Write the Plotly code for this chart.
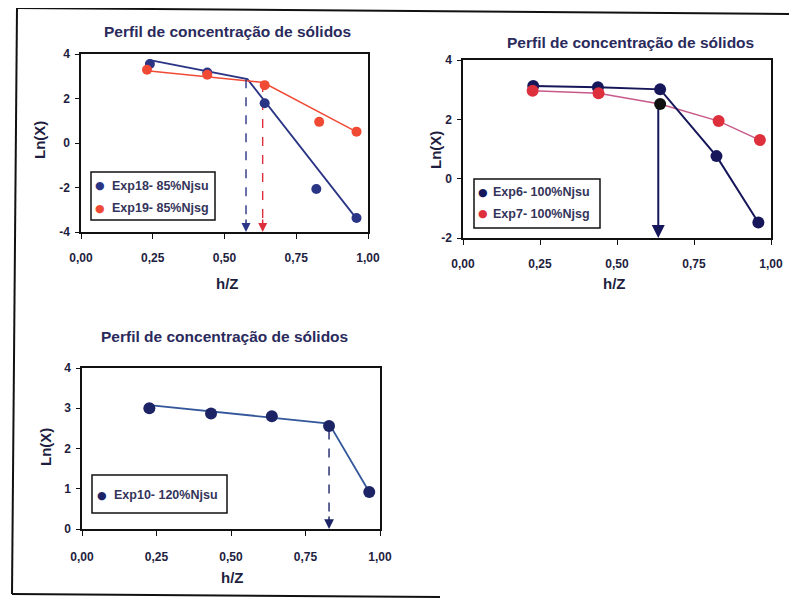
import plotly.graph_objects as go

# ---------------- data ----------------
title_text = "Perfil de concentração de sólidos"
x_ticks = [0, 0.25, 0.5, 0.75, 1.0]

# top-left chart
tl_blue_name = "Exp18- 85%Njsu"
tl_blue_x = [0.24, 0.44, 0.64, 0.82, 0.96]
tl_blue_y = [3.55, 3.17, 1.79, -2.07, -3.37]
tl_red_name = "Exp19- 85%Njsg"
tl_red_x = [0.23, 0.44, 0.64, 0.83, 0.96]
tl_red_y = [3.29, 3.07, 2.60, 0.95, 0.51]
tl_fit_blue_x = [0.24, 0.58, 0.96]
tl_fit_blue_y = [3.72, 2.87, -3.40]
tl_fit_red_x = [0.23, 0.635, 0.96]
tl_fit_red_y = [3.25, 2.72, 0.50]
tl_break_x = [0.575, 0.633]
tl_break_y = [2.87, 2.70]
tl_yticks = [-4, -2, 0, 2, 4]

# top-right chart
tr_blue_name = "Exp6- 100%Njsu"
tr_blue_x = [0.228, 0.438, 0.64, 0.823, 0.959]
tr_blue_y = [3.12, 3.08, 3.01, 0.76, -1.48]
tr_red_name = "Exp7- 100%Njsg"
tr_red_x = [0.226, 0.44, 0.64, 0.83, 0.964]
tr_red_y = [2.96, 2.88, 2.52, 1.94, 1.30]
tr_break_x = [0.634]
tr_break_y = [2.50]
tr_yticks = [-2, 0, 2, 4]

# bottom chart
bt_name = "Exp10- 120%Njsu"
bt_x = [0.226, 0.433, 0.637, 0.829, 0.964]
bt_y = [3.00, 2.87, 2.80, 2.56, 0.92]
bt_fit_x = [0.226, 0.829, 0.964]
bt_fit_y = [3.08, 2.62, 0.92]
bt_break_x = [0.829]
bt_break_y = [2.45]
bt_yticks = [0, 1, 2, 3, 4]

# ---------------- styling ----------------
W, H = 797, 599
OFF = 8  # page body margin
FONT = "Liberation Sans, Arial, sans-serif"
TXT = "#1e1e40"
NAVY = "#2b3585"
ORANGE = "#f04a35"
DNAVY = "#16165a"
CRIMSON = "#dd2f3c"
PINK = "#c85a8a"
BNAVY = "#1c2466"
BLINE = "#34579a"


def px_x(p):
    return (p - OFF) / W


def px_y(p):
    return 1 - (p - OFF) / H


fig = go.Figure()

# ---- top-left ----
fig.add_trace(go.Scatter(x=tl_fit_blue_x, y=tl_fit_blue_y, mode="lines",
                         line=dict(color=NAVY, width=1.8), showlegend=False,
                         xaxis="x", yaxis="y"))
fig.add_trace(go.Scatter(x=tl_fit_red_x, y=tl_fit_red_y, mode="lines",
                         line=dict(color=ORANGE, width=1.5), showlegend=False,
                         xaxis="x", yaxis="y"))
for bx, by, c in zip(tl_break_x, tl_break_y, [NAVY, CRIMSON]):
    fig.add_trace(go.Scatter(x=[bx, bx], y=[by, -3.6], mode="lines",
                             line=dict(color=c, width=1.4, dash="dash"),
                             showlegend=False, xaxis="x", yaxis="y"))
fig.add_trace(go.Scatter(x=tl_blue_x, y=tl_blue_y, mode="markers", name=tl_blue_name,
                         marker=dict(color=NAVY, size=10), xaxis="x", yaxis="y",
                         showlegend=False))
fig.add_trace(go.Scatter(x=tl_red_x, y=tl_red_y, mode="markers", name=tl_red_name,
                         marker=dict(color=ORANGE, size=10), xaxis="x", yaxis="y",
                         showlegend=False))

# ---- top-right ----
fig.add_trace(go.Scatter(x=tr_red_x, y=tr_red_y, mode="lines",
                         line=dict(color=PINK, width=1.5), showlegend=False,
                         xaxis="x2", yaxis="y2"))
fig.add_trace(go.Scatter(x=tr_blue_x, y=tr_blue_y, mode="lines",
                         line=dict(color=DNAVY, width=2), showlegend=False,
                         xaxis="x2", yaxis="y2"))
for bx, by in zip(tr_break_x, tr_break_y):
    fig.add_trace(go.Scatter(x=[bx, bx], y=[by, -1.7], mode="lines",
                             line=dict(color=DNAVY, width=2),
                             showlegend=False, xaxis="x2", yaxis="y2"))
fig.add_trace(go.Scatter(x=tr_blue_x, y=tr_blue_y, mode="markers", name=tr_blue_name,
                         marker=dict(color=DNAVY, size=12), xaxis="x2", yaxis="y2",
                         showlegend=False))
fig.add_trace(go.Scatter(x=tr_red_x, y=tr_red_y, mode="markers", name=tr_red_name,
                         marker=dict(color=[CRIMSON, CRIMSON, "#111111", CRIMSON, CRIMSON], size=12),
                         xaxis="x2", yaxis="y2", showlegend=False))

# ---- bottom ----
fig.add_trace(go.Scatter(x=bt_fit_x, y=bt_fit_y, mode="lines",
                         line=dict(color=BLINE, width=1.8), showlegend=False,
                         xaxis="x3", yaxis="y3"))
for bx, by in zip(bt_break_x, bt_break_y):
    fig.add_trace(go.Scatter(x=[bx, bx], y=[by, 0.15], mode="lines",
                             line=dict(color=BNAVY, width=1.4, dash="dash"),
                             showlegend=False, xaxis="x3", yaxis="y3"))
fig.add_trace(go.Scatter(x=bt_x, y=bt_y, mode="markers", name=bt_name,
                         marker=dict(color=BNAVY, size=12), xaxis="x3", yaxis="y3",
                         showlegend=False))

# arrowheads
annotations = []
for bx, c in zip(tl_break_x, [NAVY, CRIMSON]):
    annotations.append(dict(x=bx, y=-4, xref="x", yref="y", ax=0, ay=-14, text="",
                            showarrow=True, arrowhead=2, arrowsize=1.2, arrowwidth=1.5,
                            arrowcolor=c))
for bx in tr_break_x:
    annotations.append(dict(x=bx, y=-2, xref="x2", yref="y2", ax=0, ay=-14, text="",
                            showarrow=True, arrowhead=2, arrowsize=1.3, arrowwidth=2,
                            arrowcolor=DNAVY))
for bx in bt_break_x:
    annotations.append(dict(x=bx, y=0, xref="x3", yref="y3", ax=0, ay=-14, text="",
                            showarrow=True, arrowhead=2, arrowsize=1.3, arrowwidth=1.5,
                            arrowcolor=BNAVY))

# titles and axis titles
title_font = dict(family=FONT, size=15.5, color="#2a2a5c", weight="bold")
axt_font = dict(family=FONT, size=15, color=TXT, weight="bold")
for cx, cy in [(227, 32), (630, 43), (224, 336)]:
    annotations.append(dict(x=px_x(cx), y=px_y(cy), xref="paper", yref="paper",
                            text=title_text, showarrow=False, font=title_font,
                            xanchor="center", yanchor="middle"))
for cx, cy in [(227, 284), (614, 284), (232, 577)]:
    annotations.append(dict(x=px_x(cx), y=px_y(cy), xref="paper", yref="paper",
                            text="h/Z", showarrow=False, font=axt_font,
                            xanchor="center", yanchor="middle"))
for cx, cy in [(39, 140), (436, 150), (45, 447)]:
    annotations.append(dict(x=px_x(cx), y=px_y(cy), xref="paper", yref="paper",
                            text="Ln(X)", showarrow=False, font=axt_font, textangle=-90,
                            xanchor="center", yanchor="middle"))

# manual legends: (box l, t, r, b), entries (marker x, text x, row y, name, color)
shapes = []
legend_font = dict(family=FONT, size=12.5, color="#34345a", weight="bold")
legend_boxes = [
    ((91, 172, 215, 220), [(tl_blue_name, NAVY), (tl_red_name, ORANGE)], 100, 110, [186, 208]),
    ((474, 179, 600, 228), [(tr_blue_name, DNAVY), (tr_red_name, CRIMSON)], 483, 491, [192, 214]),
    ((92, 475, 227, 513), [(bt_name, BNAVY)], 102, 112, [495]),
]
for (l, t, r, b), entries, mx, tx, rows in legend_boxes:
    shapes.append(dict(type="rect", xref="paper", yref="paper",
                       x0=px_x(l), x1=px_x(r), y0=px_y(b), y1=px_y(t),
                       line=dict(color="#111", width=1.5), fillcolor="white", layer="above"))
    for (name, col), ry in zip(entries, rows):
        annotations.append(dict(x=px_x(mx), y=px_y(ry), xref="paper", yref="paper",
                                text="●", showarrow=False,
                                font=dict(family="DejaVu Sans", size=11, color=col),
                                xanchor="center", yanchor="middle"))
        annotations.append(dict(x=px_x(tx), y=px_y(ry), xref="paper", yref="paper",
                                text=name, showarrow=False, font=legend_font,
                                xanchor="left", yanchor="middle"))

# frame lines
shapes += [
    dict(type="line", xref="paper", yref="paper", x0=px_x(17), x1=px_x(805),
         y0=px_y(8), y1=px_y(14), line=dict(color="#111", width=2)),
    dict(type="line", xref="paper", yref="paper", x0=px_x(17), x1=px_x(12),
         y0=px_y(8), y1=px_y(594), line=dict(color="#111", width=2)),
    dict(type="line", xref="paper", yref="paper", x0=px_x(12), x1=px_x(440),
         y0=px_y(594), y1=px_y(597), line=dict(color="#111", width=2)),
]

tick_font = dict(family=FONT, size=12, color=TXT, weight="bold")


def xax(dom, anchor, standoff):
    return dict(domain=dom, anchor=anchor, range=[0, 1], tickvals=x_ticks,
                tickformat=".2f", showline=True, mirror=True, linecolor="#111",
                linewidth=1.5, ticks="outside", ticklen=5, tickcolor="#111",
                showgrid=False, zeroline=False, tickfont=tick_font,
                ticklabelstandoff=standoff, automargin=False)


def yax(dom, anchor, rng, vals):
    return dict(domain=dom, anchor=anchor, range=rng, tickvals=vals,
                ticktext=[str(v) for v in vals],
                showline=True, mirror=True, linecolor="#111", linewidth=1.5,
                ticks="outside", ticklen=4, tickcolor="#111", showgrid=False,
                zeroline=False, tickfont=tick_font, ticklabelstandoff=3,
                automargin=False)


fig.update_layout(
    width=W, height=H,
    margin=dict(l=0, r=0, t=0, b=0, autoexpand=False),
    paper_bgcolor="white", plot_bgcolor="white",
    separators=",.",
    showlegend=False,
    xaxis=xax([px_x(81), px_x(368)], "y", 9),
    yaxis=yax([px_y(232), px_y(54)], "x", [-4, 4], tl_yticks),
    xaxis2=xax([px_x(463), px_x(771)], "y2", 9),
    yaxis2=yax([px_y(238), px_y(60)], "x2", [-2, 4], tr_yticks),
    xaxis3=xax([px_x(82), px_x(380)], "y3", 11),
    yaxis3=yax([px_y(529), px_y(368)], "x3", [0, 4], bt_yticks),
    annotations=annotations,
    shapes=shapes,
)

fig.write_html("out.html")
